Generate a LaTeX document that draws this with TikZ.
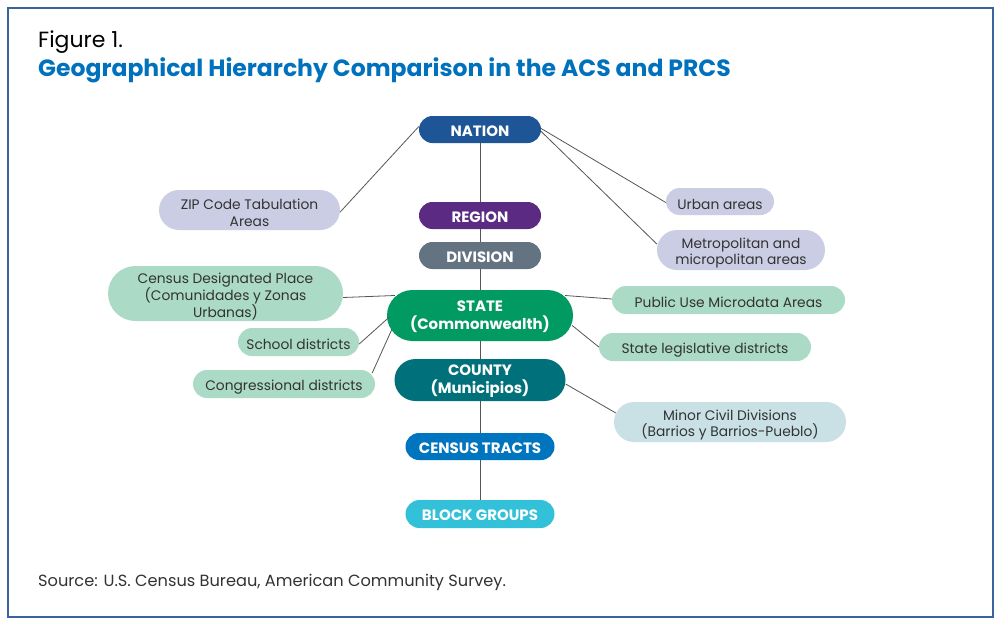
\documentclass[tikz,border=0pt]{standalone}
\usepackage{fontspec}
\setmainfont{Poppins}
\usetikzlibrary{calc}
\definecolor{frame}{HTML}{3A63A0}
\definecolor{titleblue}{HTML}{0071BC}
\definecolor{cnation}{HTML}{1E5596}
\definecolor{cregion}{HTML}{5B2A82}
\definecolor{cdivision}{HTML}{637381}
\definecolor{cstate}{HTML}{009A62}
\definecolor{ccounty}{HTML}{00717A}
\definecolor{ctract}{HTML}{0075BF}
\definecolor{cblock}{HTML}{33C1D9}
\definecolor{lav}{HTML}{CACDE4}
\definecolor{lgreen}{HTML}{ABDAC6}
\definecolor{lblue}{HTML}{C9E1E5}
\definecolor{txt}{HTML}{333333}
\definecolor{conn}{HTML}{555555}
\tikzset{
  main/.style={fill=#1, inner sep=0pt},
  main text/.style={text=white, font=\fontsize{15}{18}\selectfont\bfseries, inner sep=0pt, align=center, yshift=-1.5pt},
  side/.style={fill=#1, inner sep=0pt},
  side text/.style={text=txt, font=\fontsize{13.8}{16.5}\selectfont, inner sep=0pt, align=center, yshift=-2.8pt},
  link/.style={draw=conn, line width=0.8pt},
}
% #1 kind (main/side), #2 colour, #3 name, #4 position, #5 width, #6 height, #7 text
\newcommand\gbox[7]{%
  \node[#1=#2, minimum width=#5pt, minimum height=#6pt, rounded corners={0.5*#6pt}] (#3) at (#4) {};
  \node[#1 text] (#3-t) at (#3.center) {#7};}
\begin{document}
\begin{tikzpicture}[x=1pt,y=-1pt]
\useasboundingbox (0,0) rectangle (1000,624);
\fill[white] (0,0) rectangle (1000,624);
\draw[frame, line width=1.2pt] (8,8) rectangle (993,617);
\node[anchor=base west, inner sep=0pt, font=\fontsize{22}{24}\selectfont] (fig) at (38,47) {Figure 1.};
\node[anchor=base west, inner sep=0pt, font=\fontsize{23.5}{26}\selectfont\bfseries, text=titleblue] (ttl) at (38,76) {Geographical Hierarchy Comparison in the ACS and PRCS};
\node[anchor=base west, inner sep=0pt, font=\fontsize{16.2}{19}\selectfont, text=txt] (src) at (38,586) {Source: U.S. Census Bureau, American Community Survey.};

% main column
\coordinate (top) at (480,130);
\coordinate (bot) at (480,520);
\draw[link] (top) -- (bot);
\gbox{main}{cnation}{nation}{480,129.5}{122}{27}{NATION}
\gbox{main}{cregion}{region}{480,215.5}{122}{27}{REGION}
\gbox{main}{cdivision}{division}{480,255.5}{122}{27}{DIVISION}
\gbox{main}{cstate}{state}{480,315.5}{186}{51}{STATE\\(Commonwealth)}
\gbox{main}{ccounty}{county}{480,380}{171}{42}{COUNTY\\(Municipios)}
\gbox{main}{ctract}{tract}{480,446.5}{149}{27}{CENSUS TRACTS}
\gbox{main}{cblock}{block}{480,514}{149}{28}{BLOCK GROUPS}

% side nodes
\gbox{side}{lav}{zip}{249.5,210}{181}{40}{ZIP Code Tabulation\\Areas}
\gbox{side}{lgreen}{cdp}{225.5,293.5}{235}{55}{Census Designated Place\\(Comunidades y Zonas\\Urbanas)}
\gbox{side}{lgreen}{school}{298.5,342}{121}{28}{School districts}
\gbox{side}{lgreen}{cong}{284,384}{182}{28}{Congressional districts}
\gbox{side}{lav}{urban}{720,201.5}{108}{27}{Urban areas}
\gbox{side}{lav}{metro}{741,250}{168}{40}{Metropolitan and\\micropolitan areas}
\gbox{side}{lgreen}{puma}{728.5,300}{233}{28}{Public Use Microdata Areas}
\gbox{side}{lgreen}{sld}{705,347}{212}{28}{State legislative districts}
\gbox{side}{lblue}{mcd}{730,422}{232}{40}{Minor Civil Divisions\\(Barrios y Barrios-Pueblo)}

% connectors
\draw[link] ($(nation.west)+(0,-3)$) -- ($(zip.east)+(0,2)$);
\draw[link] ($(nation.east)+(0,-1)$) -- ($(urban.west)+(0,1)$);
\draw[link] ($(nation.east)+(0,2)$) -- ($(metro.west)+(0,-6)$);
\draw[link] ($(state.west)+(8,-20)$) -- ($(cdp.east)+(0,4)$);
\draw[link] ($(state.west)+(2,2)$) -- ($(school.east)+(0,2)$);
\draw[link] ($(state.west)+(5,14)$) -- ($(cong.east)+(-3,-11)$);
\draw[link] ($(state.east)+(-8,-20)$) -- ($(puma.west)+(0,-1)$);
\draw[link] ($(state.east)+(-1,10)$) -- ($(sld.west)+(0,0)$);
\draw[link] ($(county.east)+(0,4)$) -- ($(mcd.west)+(2,-9)$);
\end{tikzpicture}
\end{document}
